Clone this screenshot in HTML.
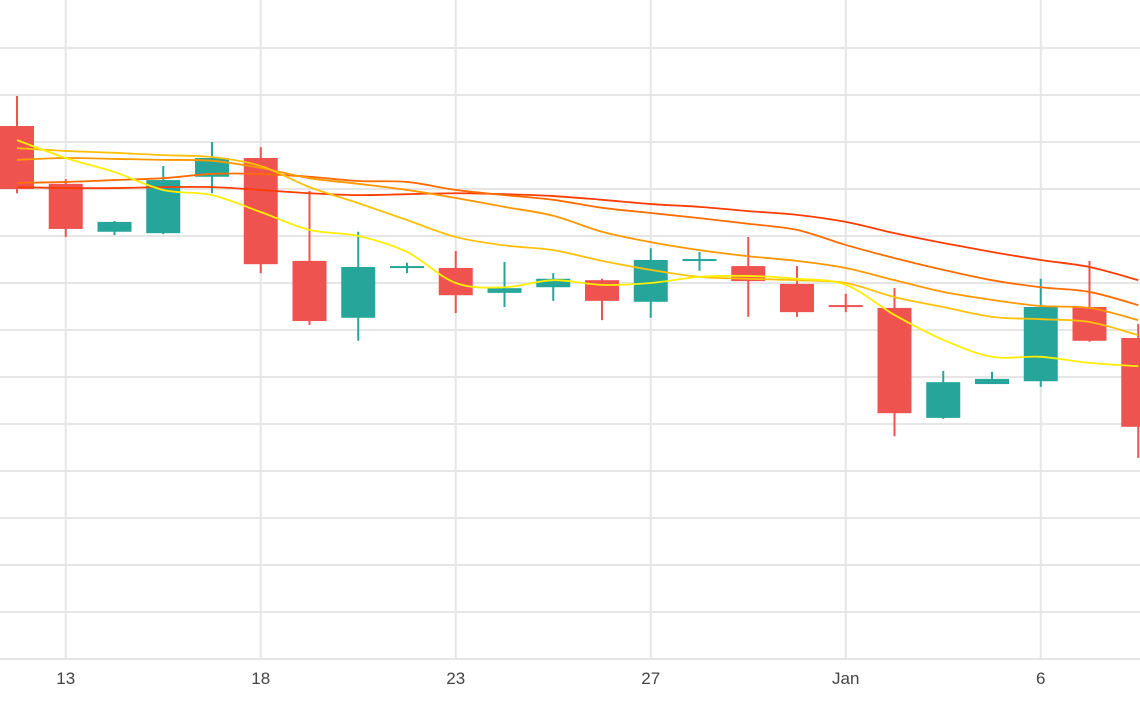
<!DOCTYPE html>
<html><head><meta charset="utf-8"><style>
html,body{margin:0;padding:0;background:#fff;}
svg{display:block;font-family:"Liberation Sans",sans-serif;}
</style></head><body>
<svg id="chart" width="1140" height="710" viewBox="0 0 1140 710"></svg>
<script>
const opens  = [213.4,201.1,190.9,190.6,202.6,206.6,184.7,172.6,183.4,183.2,177.9,179.1,180.6,176.0,184.9,183.6,179.8,175.3,174.7,151.3,158.5,159.1,174.9,168.3];
const highs  = [219.8,202.1,193.2,204.9,210.0,208.9,199.6,190.9,184.3,186.8,184.5,182.1,180.9,187.4,186.6,189.8,183.6,177.7,178.9,161.3,161.1,180.9,184.7,171.3];
const lows   = [199.1,189.8,190.2,190.4,199.1,182.1,171.1,167.7,182.1,173.6,174.9,176.2,172.1,172.6,182.6,172.8,172.8,173.8,147.4,151.1,158.5,157.9,167.5,142.8];
const closes = [200.0,191.5,193.0,201.9,206.6,184.0,171.9,183.4,183.6,177.4,178.9,180.9,176.2,184.9,185.1,180.4,173.8,175.0,152.3,158.9,159.6,174.9,167.7,149.4];
const maYellow = [210.4,206.6,203.6,199.8,198.7,195.1,191.3,190.0,186.6,180.0,179.1,180.6,179.6,180.0,181.3,181.5,180.9,179.6,173.2,167.9,164.3,164.3,163.0,162.3];
const maGold   = [208.7,208.1,207.7,207.2,206.8,204.9,200.4,197.0,193.4,189.8,188.0,187.0,184.7,182.8,181.3,180.9,180.6,180.0,177.0,174.9,172.8,172.3,171.7,168.9];
const maLight  = [206.2,206.6,206.4,206.2,206.0,204.5,202.3,201.1,199.8,198.1,196.2,194.3,190.9,188.7,187.0,185.7,184.7,183.2,180.6,178.1,176.4,175.1,174.7,172.1];
const maOrange = [201.3,201.5,201.9,202.3,203.2,203.2,202.6,201.7,201.5,199.8,198.7,197.7,196.0,194.9,193.8,192.6,191.3,188.1,185.3,182.8,180.6,179.1,178.1,175.3];
const maRed    = [200.4,200.2,200.2,200.4,200.4,199.8,199.1,198.7,198.9,199.1,198.9,198.5,197.7,196.8,196.2,195.3,194.5,193.0,190.6,188.5,186.6,184.9,183.4,180.6];
const xTickIdx = [1,5,9,13,17,21];
const xTickLabels = ["13","18","23","27","Jan","6"];
const yTicks = [100,110,120,130,140,150,160,170,180,190,200,210,220,230];

const NS="http://www.w3.org/2000/svg";
const svg=document.getElementById('chart');
function X(i){return 17+48.75*i;}
function Y(v){return 659-(v-100)*4.7;}
function mk(t,a,p){const e=document.createElementNS(NS,t);for(const k in a)e.setAttribute(k,a[k]);(p||svg).appendChild(e);return e;}

const grid=mk('g',{});


yTicks.forEach(v=>{const l=mk('line',{x1:0,x2:1140,y1:Y(v),y2:Y(v),stroke:'#e6e6e6','stroke-width':2},grid);

});
xTickIdx.forEach((i,k)=>{const l=mk('line',{x1:X(i),x2:X(i),y1:0,y2:659,stroke:'#e6e6e6','stroke-width':2},grid);


const t=mk('text',{x:X(i),y:684,'text-anchor':'middle','font-size':17,fill:'#444'},grid);
t.textContent=xTickLabels[k];

});

function smooth(arr){let pts=arr.map((v,i)=>[X(i),Y(v)]);let d='M'+pts[0][0]+','+pts[0][1];
for(let i=0;i<pts.length-1;i++){const p0=pts[Math.max(0,i-1)],p1=pts[i],p2=pts[i+1],p3=pts[Math.min(pts.length-1,i+2)];
const c1=[p1[0]+(p2[0]-p0[0])/6,p1[1]+(p2[1]-p0[1])/6],c2=[p2[0]-(p3[0]-p1[0])/6,p2[1]-(p3[1]-p1[1])/6];
d+=' C'+c1[0]+','+c1[1]+' '+c2[0]+','+c2[1]+' '+p2[0]+','+p2[1];}return d;}

const candles=mk('g',{});


for(let i=0;i<opens.length;i++){
  const up=closes[i]>=opens[i];const col=up?'#26a69a':'#ef5350';
  const g=mk('g',{},candles);
  
  
  mk('line',{x1:X(i),x2:X(i),y1:Y(highs[i]),y2:Y(lows[i]),stroke:col,'stroke-width':2},g);
  const top=Y(Math.max(opens[i],closes[i])),bot=Y(Math.min(opens[i],closes[i]));
  mk('rect',{x:X(i)-17,y:top,width:34,height:Math.max(2,bot-top),fill:col},g);
}

const series=[[maRed,'#ff3d00','ma-red-line'],[maOrange,'#ff6d00','ma-orange-line'],[maLight,'#ff9800','ma-light-orange-line'],[maGold,'#ffc107','ma-gold-line'],[maYellow,'#ffee00','ma-yellow-line']];
series.forEach(s=>{const p=mk('path',{d:smooth(s[0]),fill:'none',stroke:s[1],'stroke-width':1.8});

});
</script>
</body></html>
